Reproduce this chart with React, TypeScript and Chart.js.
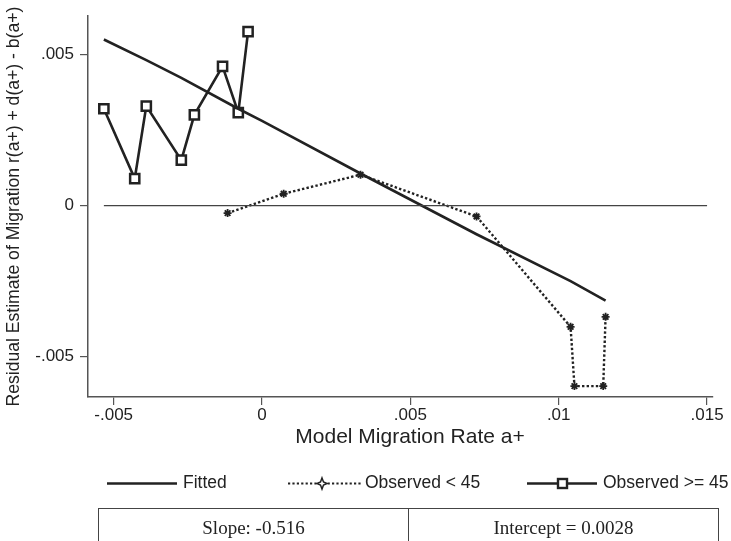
import React, { useEffect, useRef } from "react";
import { Chart, registerables } from "chart.js";

Chart.register(...registerables);

// Data
const fittedX = [-0.00533, -0.0039, -0.00272, -0.0008, 0, 0.00332, 0.00723, 0.0104, 0.01158];
const fittedY = [0.00549, 0.00481, 0.00422, 0.0032, 0.0028, 0.00106, -0.00095, -0.0025, -0.00314];

const youngX = [-0.00116, 0.00073, 0.00332, 0.00723, 0.0104, 0.01053, 0.0115, 0.01158];
const youngY = [-0.00025, 0.00039, 0.00102, -0.00036, -0.00401, -0.00597, -0.00597, -0.00368];

const oldX = [-0.00533, -0.00429, -0.0039, -0.00272, -0.00228, -0.00133, -0.0008, -0.00047];
const oldY = [0.0032, 0.00089, 0.00329, 0.0015, 0.003, 0.0046, 0.00307, 0.00575];

const zeroLineX = [-0.00533, 0.015];
const zeroLineY = [0, 0];

const xTicks = [-0.005, 0, 0.005, 0.01, 0.015];
const xTickLabels = ["-.005", "0", ".005", ".01", ".015"];
const yTicks = [-0.005, 0, 0.005];
const yTickLabels = ["-.005", "0", ".005"];

const legendLabels = ["Fitted", "Observed < 45", "Observed >= 45"];
const tableCells = ["Slope: -0.516", "Intercept = 0.0028"];

const xTitle = "Model Migration Rate a+";
const yTitle = "Residual Estimate of Migration r(a+) + d(a+) - b(a+)";

const pts = (xs: number[], ys: number[]) => xs.map((x, i) => ({ x, y: ys[i] }));

const SANS = "'Liberation Sans', Arial, sans-serif";
const SERIF = "'Liberation Serif', 'Times New Roman', serif";
const INK = "#222222";

export default function App() {
  const ref = useRef<HTMLCanvasElement | null>(null);

  useEffect(() => {
    if (!ref.current) return;
    const chart = new Chart(ref.current, {
      type: "scatter",
      data: {
        datasets: [
          {
            label: "zero",
            data: pts(zeroLineX, zeroLineY),
            showLine: true,
            borderColor: "#444444",
            borderWidth: 1.2,
            pointRadius: 0,
          },
          {
            label: legendLabels[0],
            data: pts(fittedX, fittedY),
            showLine: true,
            borderColor: INK,
            borderWidth: 2.6,
            pointRadius: 0,
          },
          {
            label: legendLabels[1],
            data: pts(youngX, youngY),
            showLine: true,
            borderColor: INK,
            borderWidth: 2.4,
            borderDash: [2.4, 2.2],
            pointStyle: "star",
            pointRadius: 4,
            pointBorderWidth: 1.8,
            pointBorderColor: INK,
            pointBackgroundColor: "#ffffff",
          },
          {
            label: legendLabels[2],
            data: pts(oldX, oldY),
            showLine: true,
            borderColor: INK,
            borderWidth: 2.6,
            pointStyle: "rect",
            pointRadius: 6.5,
            pointBorderWidth: 2.5,
            pointBorderColor: INK,
            pointBackgroundColor: "#ffffff",
          },
        ],
      },
      options: {
        animation: false,
        responsive: false,
        maintainAspectRatio: false,
        layout: { padding: { top: 13, right: 18, left: 0, bottom: 0 } },
        plugins: { legend: { display: false }, tooltip: { enabled: false } },
        scales: {
          x: {
            type: "linear",
            min: -0.005865,
            max: 0.0152,
            afterFit: (s: any) => {
              s.height = 55;
            },
            afterBuildTicks: (s: any) => {
              s.ticks = xTicks.map((v) => ({ value: v }));
            },
            ticks: {
              autoSkip: false,
              maxRotation: 0,
              padding: 0,
              color: INK,
              font: { family: SANS, size: 17 },
              callback: (v: any) => {
                const i = xTicks.findIndex((t) => Math.abs(t - Number(v)) < 1e-9);
                return i >= 0 ? xTickLabels[i] : "";
              },
            },
            grid: { drawOnChartArea: false, drawTicks: true, tickLength: 8, color: "#555555", lineWidth: 1.2 },
            border: { display: true, color: "#555555", width: 1.5 },
            title: { display: false },
          },
          y: {
            type: "linear",
            min: -0.00633,
            max: 0.00626,
            afterFit: (s: any) => {
              s.width = 88;
            },
            afterBuildTicks: (s: any) => {
              s.ticks = yTicks.map((v) => ({ value: v }));
            },
            ticks: {
              autoSkip: false,
              padding: 6,
              color: INK,
              font: { family: SANS, size: 17 },
              callback: (v: any) => {
                const i = yTicks.findIndex((t) => Math.abs(t - Number(v)) < 1e-9);
                return i >= 0 ? yTickLabels[i] : "";
              },
            },
            grid: { drawOnChartArea: false, drawTicks: true, tickLength: 8, color: "#555555", lineWidth: 1.2 },
            border: { display: true, color: "#555555", width: 1.5 },
            title: {
              display: true,
              text: yTitle,
              color: INK,
              font: { family: SANS, size: 17.6 },
              padding: { top: 4, bottom: 0 },
            },
          },
        },
      },
    });
    return () => chart.destroy();
  }, []);

  const textStyle: React.CSSProperties = {
    position: "absolute",
    top: 471,
    fontFamily: SANS,
    fontSize: 17.5,
    color: INK,
    lineHeight: "22px",
    whiteSpace: "nowrap",
  };

  return (
    <div style={{ position: "absolute", left: 0, top: 0, width: 731, height: 541, overflow: "hidden", background: "#fff" }}>
      <canvas ref={ref} width={731} height={452} style={{ position: "absolute", left: 0, top: 0, width: 731, height: 452 }} />
      <div
        style={{
          position: "absolute",
          left: 0,
          top: 423,
          width: 820,
          textAlign: "center",
          fontFamily: SANS,
          fontSize: 21,
          lineHeight: "26px",
          color: INK,
          whiteSpace: "nowrap",
        }}
      >
        {xTitle}
      </div>
      <svg width={731} height={541} style={{ position: "absolute", left: 0, top: 0 }}>
        <line x1={107} y1={483.5} x2={177} y2={483.5} stroke={INK} strokeWidth={2.6} />
        <line x1={288} y1={483.5} x2={362} y2={483.5} stroke={INK} strokeWidth={2.2} strokeDasharray="2.2 2.2" />
        <path d="M322 478 L323.5 482 L327 483.5 L323.5 485 L322 489 L320.5 485 L317 483.5 L320.5 482 Z" fill="#fff" stroke={INK} strokeWidth={1.5} />
        <line x1={527} y1={483.5} x2={597} y2={483.5} stroke={INK} strokeWidth={2.6} />
        <rect x={558} y={479} width={9} height={9} fill="#fff" stroke={INK} strokeWidth={2.4} />
      </svg>
      <span style={{ ...textStyle, left: 183 }}>{legendLabels[0]}</span>
      <span style={{ ...textStyle, left: 365 }}>{legendLabels[1]}</span>
      <span style={{ ...textStyle, left: 603 }}>{legendLabels[2]}</span>
      <div
        style={{
          position: "absolute",
          left: 98,
          top: 508,
          width: 619,
          height: 44,
          border: "1px solid #444",
          display: "flex",
          fontFamily: SERIF,
          fontSize: 19,
          color: INK,
        }}
      >
        <div style={{ width: 309, borderRight: "1px solid #444", textAlign: "center", lineHeight: "37px" }}>{tableCells[0]}</div>
        <div style={{ flex: 1, textAlign: "center", lineHeight: "37px" }}>{tableCells[1]}</div>
      </div>
    </div>
  );
}
